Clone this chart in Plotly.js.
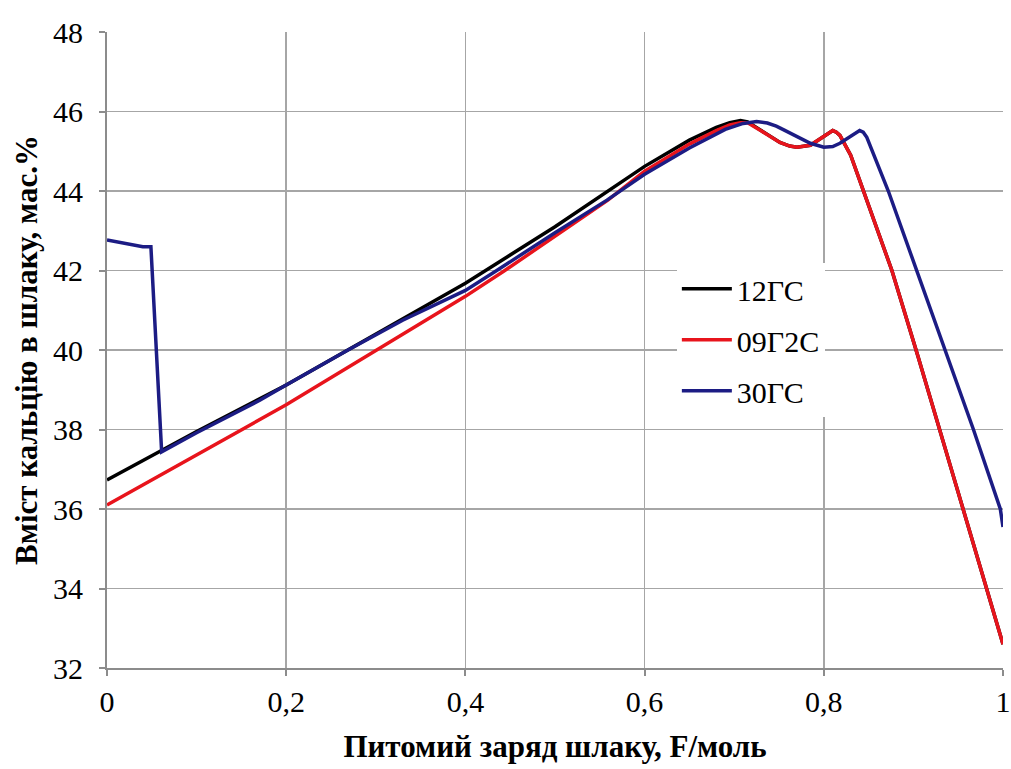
<!DOCTYPE html>
<html>
<head>
<meta charset="utf-8">
<script src="https://cdn.plot.ly/plotly-3.0.1.min.js"></script>
<style>html,body{margin:0;padding:0;background:#fff;}#chart{width:1011px;height:769px;}</style>
</head>
<body>
<div id="chart"></div>
<script>
// Series names
const seriesNames = ['12ГС', '09Г2С', '30ГС'];

// 12ГС (black)
const x12GS = [0, 0.06, 0.1, 0.2, 0.3, 0.4, 0.5, 0.6, 0.65, 0.68, 0.695, 0.707, 0.715, 0.729, 0.74, 0.751, 0.762, 0.77, 0.785, 0.799, 0.806, 0.81, 0.814, 0.818, 0.83, 0.876, 0.905, 0.932, 0.954, 0.978, 1];
const y12GS = [36.73, 37.45, 37.95, 39.12, 40.4, 41.68, 43.1, 44.62, 45.28, 45.6, 45.72, 45.77, 45.74, 45.53, 45.37, 45.22, 45.13, 45.1, 45.15, 45.37, 45.48, 45.52, 45.48, 45.4, 44.9, 42.0, 39.85, 37.8, 36.1, 34.25, 32.6];

// 09Г2С (red)
const x09G2S = [0, 0.1, 0.2, 0.301, 0.357, 0.4, 0.444, 0.5, 0.559, 0.6, 0.65, 0.68, 0.695, 0.707, 0.715, 0.729, 0.74, 0.751, 0.762, 0.77, 0.785, 0.799, 0.806, 0.81, 0.814, 0.818, 0.83, 0.876, 0.905, 0.932, 0.954, 0.978, 1];
const y09G2S = [36.1, 37.35, 38.62, 40.0, 40.75, 41.35, 42.0, 42.85, 43.77, 44.5, 45.18, 45.52, 45.66, 45.72, 45.72, 45.53, 45.37, 45.22, 45.13, 45.1, 45.15, 45.37, 45.48, 45.52, 45.48, 45.4, 44.9, 42.0, 39.85, 37.8, 36.1, 34.25, 32.6];

// 30ГС (blue)
const x30GS = [0, 0.04, 0.049, 0.061, 0.1, 0.171, 0.2, 0.269, 0.33, 0.4, 0.435, 0.5, 0.558, 0.6, 0.65, 0.69, 0.71, 0.725, 0.737, 0.747, 0.757, 0.766, 0.776, 0.785, 0.8, 0.81, 0.818, 0.83, 0.836, 0.84, 0.844, 0.848, 0.872, 0.904, 0.935, 0.967, 0.997, 1];
const y30GS = [42.77, 42.6, 42.6, 37.44, 37.92, 38.74, 39.12, 40.0, 40.75, 41.5, 42.0, 42.95, 43.77, 44.42, 45.08, 45.55, 45.7, 45.75, 45.71, 45.63, 45.52, 45.41, 45.3, 45.2, 45.1, 45.12, 45.2, 45.38, 45.48, 45.52, 45.48, 45.35, 44.0, 42.0, 40.0, 38.0, 36.0, 35.55];

const xTitle = 'Питомий заряд шлаку, F/моль';
const yTitle = 'Вміст кальцію в шлаку, мас.%';

const colors = ['#000000', '#e8141c', '#1c1c84'];
const font = 'Liberation Serif';

const traces = [
  {x: x12GS, y: y12GS, name: seriesNames[0], legendgroup: 'a', mode: 'lines', line: {color: colors[0], width: 3.5}},
  {x: x09G2S, y: y09G2S, name: seriesNames[1], legendgroup: 'b', mode: 'lines', line: {color: colors[1], width: 3.5}},
  {x: x30GS, y: y30GS, name: seriesNames[2], legendgroup: 'c', mode: 'lines', line: {color: colors[2], width: 3.5}}
];

const layout = {
  width: 1011, height: 769,
  margin: {l: 107, r: 8, t: 32, b: 101},
  paper_bgcolor: '#ffffff', plot_bgcolor: '#ffffff',
  separators: ', ',
  font: {family: font, color: '#000000', size: 30},
  showlegend: true,
  hovermode: false,
  legend: {
    x: 0.636, y: 0.637, xanchor: 'left', yanchor: 'top',
    bgcolor: '#ffffff', borderwidth: 0,
    font: {family: font, size: 30, color: '#000000'},
    tracegroupgap: 9,
    itemwidth: 50
  },
  xaxis: {
    range: [0, 1], dtick: 0.2, tick0: 0,
    showgrid: true, gridcolor: '#a6a6a6', gridwidth: 1.5,
    showline: true, linecolor: '#8c8c8c', linewidth: 2,
    ticks: 'outside', ticklen: 6, tickcolor: '#8c8c8c', tickwidth: 2,
    zeroline: false,
    tickfont: {family: font, size: 30},
    title: {text: '<b>' + xTitle + '</b>', font: {family: font, size: 31}, standoff: 18}
  },
  yaxis: {
    range: [32, 48], dtick: 2, tick0: 32,
    showgrid: true, gridcolor: '#a6a6a6', gridwidth: 1.5,
    showline: true, linecolor: '#8c8c8c', linewidth: 2,
    ticks: 'outside', ticklen: 6, tickcolor: '#8c8c8c', tickwidth: 2,
    ticklabelstandoff: 10,
    zeroline: false,
    tickfont: {family: font, size: 30},
    title: {text: '<b>' + yTitle + '</b>', font: {family: font, size: 31}, standoff: 6}
  }
};

Plotly.newPlot('chart', traces, layout, {displayModeBar: false, staticPlot: true});
</script>
</body>
</html>
